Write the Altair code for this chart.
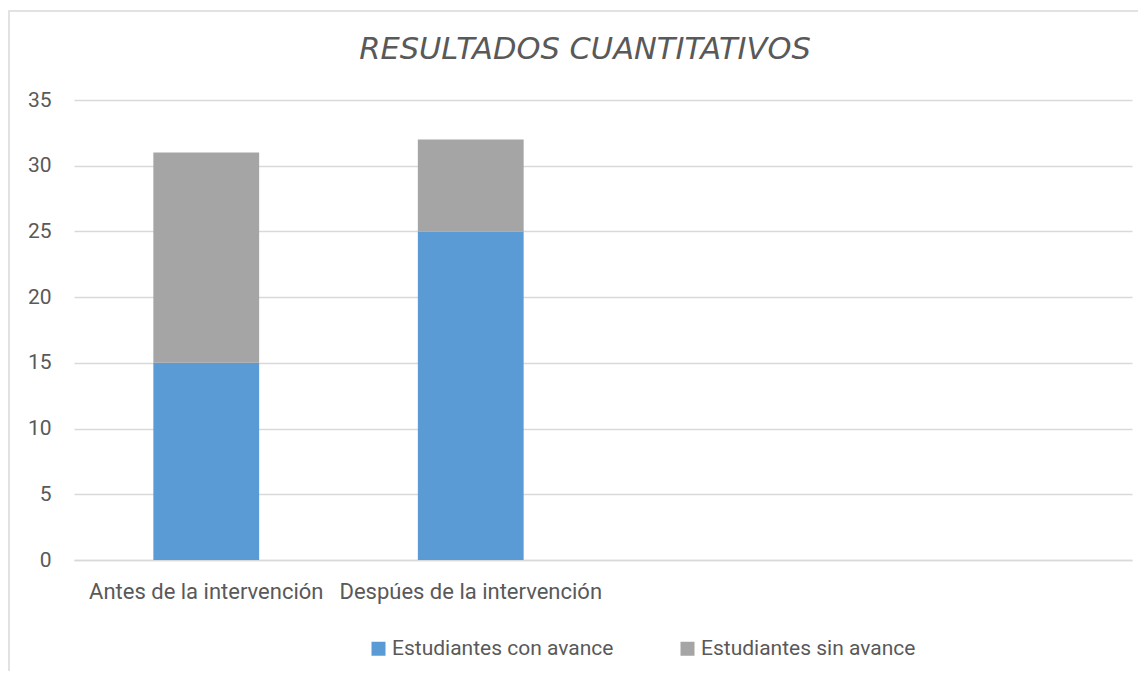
import altair as alt
import pandas as pd

categories = ["Antes de la intervención", "Despúes de la intervención"]
extra_slots = ["c3", "c4"]
series = ["Estudiantes con avance", "Estudiantes sin avance"]
con_avance = [15, 25]
sin_avance = [16, 7]
colors = ["#5B9BD5", "#A5A5A5"]
title_text = "RESULTADOS CUANTITATIVOS"

rows = []
for i, c in enumerate(categories):
    rows.append({"cat": c, "serie": series[0], "valor": con_avance[i], "ord": 0})
    rows.append({"cat": c, "serie": series[1], "valor": sin_avance[i], "ord": 1})
df = pd.DataFrame(rows)

FONT = "Roboto"
GREY = "#595959"

bars = alt.Chart(df).mark_bar().encode(
    x=alt.X("cat:N", title=None,
            scale=alt.Scale(domain=categories + extra_slots, paddingInner=0.6, paddingOuter=0.3),
            axis=alt.Axis(labelAngle=0, labelExpr="(datum.value == 'c3' || datum.value == 'c4') ? '' : datum.value",
                          ticks=False, domain=True, domainColor="#D9D9D9", domainWidth=1.5,
                          labelFontSize=22, labelColor=GREY, labelFont=FONT, labelPadding=21,
                          labelLimit=0, labelOverlap=False, grid=False)),
    y=alt.Y("valor:Q", title=None, stack="zero",
            scale=alt.Scale(domain=[0, 35], nice=False),
            axis=alt.Axis(values=[0, 5, 10, 15, 20, 25, 30, 35], ticks=False, domain=False,
                          gridColor="#D9D9D9", gridWidth=1.5,
                          labelFontSize=21, labelColor=GREY, labelFont=FONT, labelPadding=23)),
    color=alt.Color("serie:N", scale=alt.Scale(domain=series, range=colors),
                    legend=alt.Legend(title=None, orient="none", legendX=294, legendY=538,
                                      direction="horizontal", columns=2, columnPadding=63,
                                      padding=0, labelOffset=3,
                                      symbolType="square", symbolSize=196, symbolStrokeWidth=0,
                                      labelFontSize=21, labelColor=GREY, labelFont=FONT,
                                      labelLimit=0, symbolOpacity=1)),
    order=alt.Order("ord:Q", sort="ascending"),
)

border = alt.Chart(pd.DataFrame({"a": [0]})).mark_rect(
    fill=None, stroke="#D9D9D9", strokeWidth=1.5
).encode(x=alt.value(-65), x2=alt.value(1200), y=alt.value(-89), y2=alt.value(700))

title = alt.Chart(pd.DataFrame({"t": [title_text]})).mark_text(
    font="DejaVu Sans", fontSize=30.5, fontStyle="italic", color=GREY, align="center", baseline="middle"
).encode(text="t:N", x=alt.value(511), y=alt.value(-50))

chart = alt.layer(border, bars, title).properties(
    width=1058, height=460,
    background="white",
    autosize=alt.AutoSizeParams(type="none"),
    padding={"left": 66, "top": 92, "right": 6, "bottom": 111},
).configure_view(stroke="transparent", strokeWidth=0)

chart.save("out.html", embed_options={"renderer": "svg", "actions": False})
